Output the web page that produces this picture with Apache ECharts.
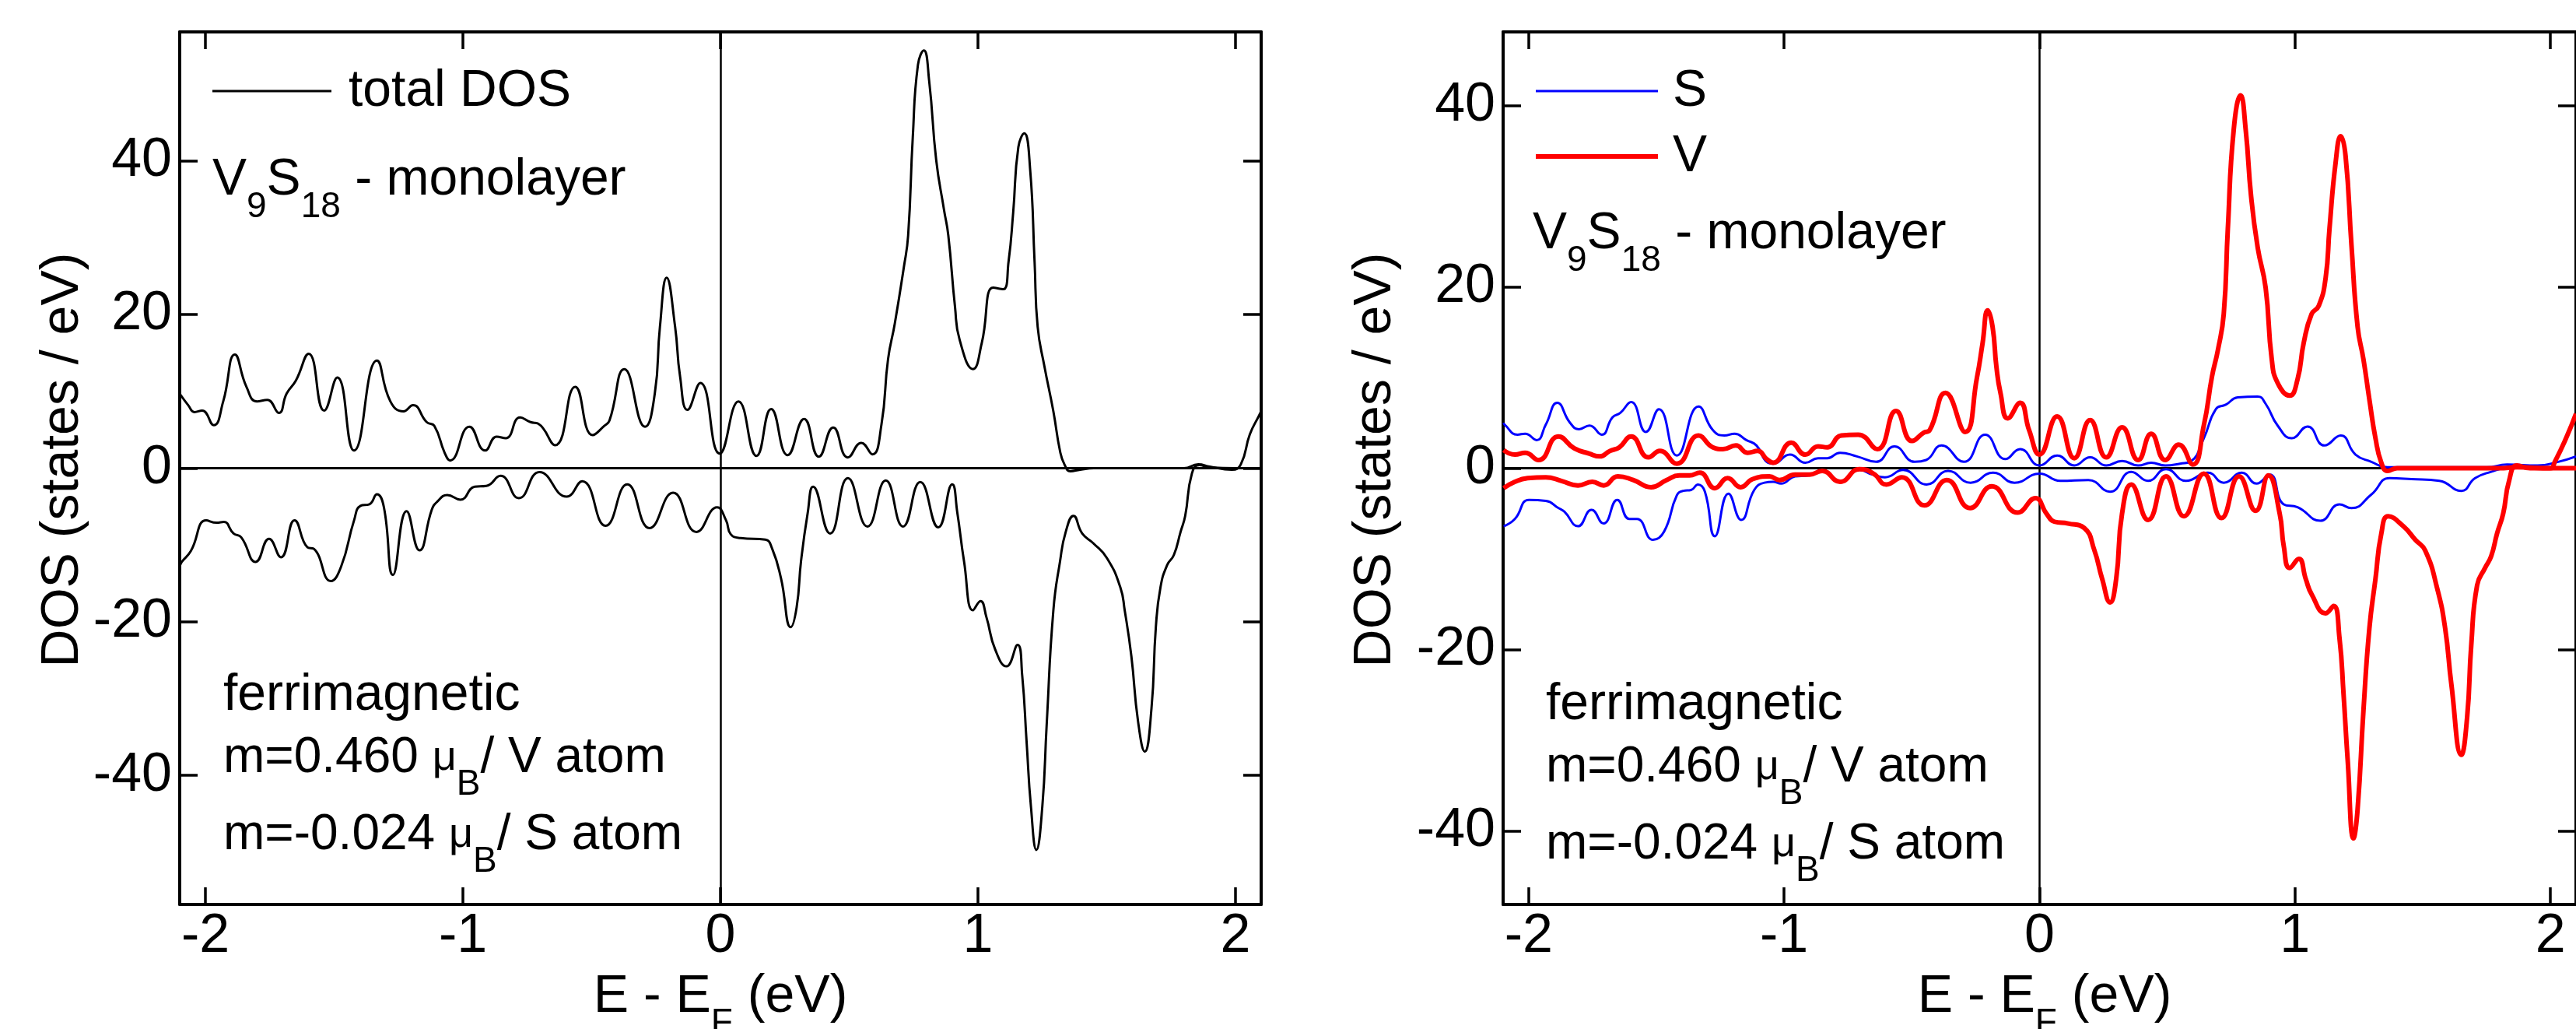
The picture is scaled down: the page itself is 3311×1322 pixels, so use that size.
<!DOCTYPE html>
<html>
<head>
<meta charset="utf-8">
<title>V9S18 monolayer DOS</title>
<script src="https://cdn.jsdelivr.net/npm/echarts@6/dist/echarts.min.js"></script>
<style>
html, body { margin: 0; padding: 0; background: #fff; }
#chart { width: 3311px; height: 1322px; }
</style>
</head>
<body>
<div id="chart"></div>
<script>
// Tick positions shared by both panels
const xTicks = [-2, -1, 0, 1, 2];
const yTicks = [-40, -20, 0, 20, 40];

// Total DOS, majority spin (states / eV)
const totUpE = [-2.098,-2.067,-2.043,-2.013,-1.968,-1.931,-1.886,-1.841,-1.800,-1.760,-1.715,-1.685,-1.649,-1.599,-1.539,-1.488,-1.423,-1.334,-1.282,-1.231,-1.194,-1.141,-1.111,-1.071,-1.050,-0.975,-0.914,-0.869,-0.834,-0.778,-0.738,-0.708,-0.642,-0.564,-0.496,-0.451,-0.431,-0.373,-0.293,-0.255,-0.235,-0.209,-0.176,-0.157,-0.128,-0.078,-0.003,0.070,0.140,0.197,0.261,0.325,0.382,0.438,0.495,0.547,0.590,0.625,0.651,0.677,0.712,0.729,0.747,0.767,0.790,0.811,0.838,0.868,0.885,0.911,0.929,0.981,1.015,1.059,1.098,1.119,1.137,1.157,1.180,1.203,1.220,1.232,1.258,1.293,1.319,1.336,1.359,1.397,1.450,1.800,1.856,1.900,1.986,2.021,2.056,2.091,2.100];
const totUpD = [9.6,8.2,7.3,7.5,5.6,8.7,14.8,10.6,8.7,8.9,7.2,9.7,11.4,14.9,7.5,11.8,2.3,14.0,8.7,7.4,8.2,6.0,5.5,2.0,1.0,5.4,2.3,4.1,3.9,6.6,6.0,5.8,3.0,10.6,4.3,5.5,6.2,12.9,5.4,9.7,18.4,24.8,18.4,12.0,7.6,11.1,1.9,8.7,1.6,7.7,1.7,6.4,1.5,5.3,1.4,3.3,1.8,5.6,14.2,18.8,26.1,30.3,43.1,52.5,54.4,50.3,40.1,33.7,30.3,21.0,16.7,12.9,16.3,23.5,23.3,26.9,33.3,41.8,43.6,38.8,26.9,18.4,13.3,7.4,2.2,0.5,-0.4,-0.2,0.0,0.0,0.5,0.2,-0.2,0.5,4.4,6.8,7.4];

// Total DOS, minority spin (drawn negative)
const totDnE = [-2.098,-2.092,-2.057,-1.997,-1.957,-1.929,-1.891,-1.861,-1.805,-1.753,-1.707,-1.654,-1.604,-1.579,-1.513,-1.473,-1.423,-1.398,-1.363,-1.334,-1.307,-1.272,-1.219,-1.169,-1.121,-1.101,-1.061,-1.010,-0.954,-0.909,-0.854,-0.783,-0.703,-0.597,-0.537,-0.446,-0.362,-0.275,-0.184,-0.093,-0.013,0.022,0.040,0.079,0.174,0.200,0.235,0.273,0.296,0.313,0.339,0.360,0.426,0.495,0.571,0.642,0.709,0.776,0.846,0.900,0.920,0.946,0.981,1.010,1.033,1.067,1.111,1.154,1.172,1.189,1.206,1.227,1.250,1.267,1.293,1.319,1.341,1.371,1.405,1.449,1.501,1.553,1.570,1.596,1.622,1.648,1.674,1.691,1.709,1.735,1.761,1.787,1.805,1.831,1.860,1.900,2.000,2.100];
const totDnD = [-12.6,-12.2,-10.8,-6.8,-7.1,-7.0,-8.5,-9.0,-12.2,-9.2,-11.6,-6.8,-10.3,-10.5,-14.7,-12.8,-6.8,-4.9,-4.7,-3.4,-5.1,-13.9,-5.6,-10.7,-5.4,-4.4,-3.5,-4.1,-2.4,-2.3,-1.0,-3.9,-0.5,-3.7,-1.7,-7.5,-2.1,-7.8,-3.2,-8.3,-5.1,-6.8,-8.6,-9.1,-9.3,-10.4,-14.3,-20.7,-18.1,-12.1,-5.8,-2.4,-8.5,-1.3,-7.6,-1.6,-7.6,-1.8,-7.7,-2.1,-5.8,-12.1,-18.5,-17.3,-19.4,-23.6,-25.8,-23.0,-27.0,-35.6,-44.1,-49.7,-44.1,-33.4,-18.5,-12.1,-8.3,-6.2,-8.5,-9.8,-11.7,-15.5,-18.5,-24.5,-33.0,-36.9,-31.3,-20.7,-15.5,-12.6,-11.3,-8.3,-6.2,-0.7,0.4,0.1,0.0,0.0];

// S-projected DOS, majority spin
const sUpE = [-2.098,-2.094,-2.044,-2.014,-1.969,-1.933,-1.888,-1.838,-1.803,-1.762,-1.714,-1.672,-1.641,-1.599,-1.541,-1.490,-1.420,-1.335,-1.279,-1.234,-1.194,-1.148,-1.108,-1.068,-1.043,-0.977,-0.917,-0.867,-0.831,-0.781,-0.715,-0.640,-0.568,-0.489,-0.444,-0.384,-0.296,-0.213,-0.134,-0.076,0.000,0.069,0.136,0.198,0.261,0.323,0.386,0.437,0.492,0.550,0.594,0.643,0.690,0.729,0.776,0.854,0.885,0.932,0.987,1.049,1.115,1.179,1.237,1.299,1.362,1.750,1.830,1.950,2.030,2.100];
const sUpD = [5.0,4.8,3.7,3.8,3.1,4.8,7.2,5.0,4.3,4.7,3.7,5.6,6.1,7.3,4.0,6.5,1.4,6.8,4.2,3.6,3.8,3.1,2.5,0.7,0.5,1.5,0.6,1.1,1.1,1.7,1.3,0.7,2.4,0.7,0.9,2.5,0.7,3.7,1.0,2.1,0.3,1.4,0.3,1.2,0.3,0.8,0.3,0.6,0.3,0.5,0.8,3.3,6.5,7.0,7.8,7.9,7.1,4.7,3.3,4.6,2.5,3.6,1.5,0.7,0.1,0.1,0.4,0.3,0.7,1.3];

// S-projected DOS, minority spin
const sDnE = [-2.098,-2.054,-1.999,-1.933,-1.883,-1.860,-1.807,-1.754,-1.707,-1.653,-1.606,-1.576,-1.513,-1.470,-1.420,-1.395,-1.364,-1.337,-1.310,-1.271,-1.218,-1.168,-1.117,-1.077,-1.043,-1.012,-0.957,-0.907,-0.851,-0.781,-0.705,-0.655,-0.605,-0.534,-0.442,-0.358,-0.270,-0.182,-0.098,0.000,0.081,0.191,0.276,0.359,0.425,0.495,0.573,0.659,0.721,0.792,0.849,0.901,0.956,1.010,1.099,1.174,1.221,1.299,1.370,1.455,1.565,1.651,1.705,1.768,1.830,2.100];
const sDnD = [-6.4,-5.6,-3.5,-3.6,-4.4,-4.8,-6.4,-4.6,-6.1,-3.5,-5.6,-5.6,-7.9,-7.0,-3.0,-2.5,-2.4,-1.8,-2.6,-7.5,-2.8,-5.7,-2.4,-1.6,-1.5,-1.7,-0.9,-0.8,-0.3,-1.4,-0.2,-0.7,-1.0,-0.2,-1.8,-0.3,-1.6,-0.5,-1.6,-0.6,-1.4,-1.3,-2.6,-0.4,-1.4,-0.1,-1.4,-0.5,-1.6,-0.5,-1.7,-0.7,-4.0,-4.3,-5.8,-4.0,-4.4,-2.9,-1.1,-1.2,-1.4,-2.5,-1.1,-0.4,0.0,0.0];

// V-projected DOS, majority spin
const vUpE = [-2.098,-2.054,-2.014,-1.961,-1.884,-1.822,-1.762,-1.722,-1.682,-1.645,-1.599,-1.531,-1.486,-1.420,-1.335,-1.279,-1.239,-1.189,-1.143,-1.103,-1.068,-1.043,-0.972,-0.917,-0.867,-0.831,-0.776,-0.710,-0.635,-0.562,-0.499,-0.454,-0.430,-0.368,-0.291,-0.245,-0.223,-0.203,-0.184,-0.169,-0.153,-0.124,-0.076,-0.041,0.000,0.069,0.136,0.198,0.261,0.323,0.386,0.437,0.492,0.545,0.600,0.643,0.675,0.698,0.721,0.737,0.760,0.787,0.807,0.828,0.854,0.885,0.909,0.932,0.979,1.010,1.034,1.065,1.093,1.120,1.135,1.159,1.179,1.198,1.221,1.245,1.268,1.291,1.315,1.338,1.362,1.400,1.800,1.869,2.000,2.017,2.061,2.100];
const vUpD = [2.0,1.5,1.7,0.9,3.5,2.2,1.6,1.3,1.9,2.3,3.5,1.2,1.9,0.5,3.6,2.3,2.1,2.5,1.7,1.9,1.0,0.6,2.8,1.5,2.4,2.3,3.6,3.7,2.1,6.3,3.0,3.9,4.2,8.3,4.0,10.0,13.8,17.4,15.6,11.2,8.3,5.5,7.2,4.2,1.5,5.7,1.1,5.3,1.2,4.5,0.9,3.8,0.9,2.6,0.4,4.7,10.1,13.0,17.0,26.4,37.3,41.1,37.3,30.0,24.3,19.9,12.0,9.4,8.0,9.8,13.8,17.0,17.9,21.0,26.4,33.7,36.6,34.4,24.6,15.6,12.0,7.6,3.3,0.6,-0.3,0.0,0.0,0.1,0.0,0.7,3.3,6.0];

// V-projected DOS, minority spin
const vDnE = [-2.098,-2.054,-2.004,-1.933,-1.872,-1.807,-1.751,-1.706,-1.651,-1.591,-1.521,-1.460,-1.410,-1.370,-1.330,-1.271,-1.221,-1.170,-1.123,-1.058,-1.018,-0.957,-0.900,-0.851,-0.781,-0.705,-0.650,-0.600,-0.539,-0.451,-0.363,-0.272,-0.187,-0.086,-0.016,0.027,0.058,0.112,0.175,0.214,0.245,0.276,0.300,0.323,0.359,0.425,0.495,0.565,0.643,0.712,0.781,0.846,0.896,0.940,0.956,0.979,1.015,1.042,1.065,1.120,1.151,1.174,1.190,1.206,1.229,1.245,1.268,1.291,1.315,1.338,1.365,1.424,1.471,1.510,1.557,1.588,1.612,1.651,1.674,1.690,1.713,1.744,1.768,1.791,1.815,1.838,1.869,1.920,2.100];
const vDnD = [-2.2,-1.5,-1.1,-1.0,-1.4,-1.9,-1.5,-1.9,-0.9,-1.3,-2.1,-1.3,-0.8,-0.8,-0.5,-2.2,-1.1,-2.1,-1.2,-0.9,-1.3,-0.7,-0.7,-0.3,-1.5,-0.1,-0.6,-1.8,-1.0,-4.1,-1.3,-4.4,-2.0,-4.9,-3.3,-5.0,-5.9,-6.1,-6.6,-9.0,-12.2,-14.8,-12.2,-5.0,-1.8,-5.7,-0.9,-5.3,-0.6,-5.5,-0.9,-4.7,-0.8,-5.0,-8.6,-11.0,-10.0,-12.2,-13.9,-16.0,-15.2,-18.7,-24.9,-32.1,-40.8,-37.6,-26.7,-17.7,-12.2,-7.2,-5.3,-6.4,-7.9,-9.1,-13.3,-17.7,-23.8,-31.6,-27.4,-19.5,-12.9,-11.0,-9.7,-7.2,-5.0,-1.4,0.3,0.0,0.0];

const FONT = '"Liberation Sans", Arial, Helvetica, sans-serif';
const X_MIN = -2.1, X_MAX = 2.1;

function pairs(xs, ys) { return xs.map((x, i) => [x, ys[i]]); }

const GRID_TOP = 41, GRID_H = 1121, GRID_W = 1390;
const grids = [
  { left: 231, top: GRID_TOP, width: GRID_W, height: GRID_H },
  { left: 1932, top: GRID_TOP, width: GRID_W, height: GRID_H }
];
const yRanges = [[-56.8, 56.8], [-48.1, 48.1]];

const frameLine = { show: true, onZero: false, lineStyle: { color: '#000', width: 4 } };
const tickStyle = { color: '#000', width: 3.5 };

const xAxes = [], yAxes = [];
grids.forEach((g, gi) => {
  const base = { type: 'value', gridIndex: gi, min: X_MIN, max: X_MAX, splitLine: { show: false }, axisLine: frameLine };
  xAxes.push(Object.assign({}, base, {
    position: 'bottom',
    axisTick: { show: true, inside: true, length: 22, lineStyle: tickStyle, customValues: xTicks },
    axisLabel: { show: true, customValues: xTicks, margin: 7, fontSize: 70, color: '#000', fontFamily: FONT }
  }));
  xAxes.push(Object.assign({}, base, {
    position: 'top',
    axisTick: { show: true, inside: true, length: 22, lineStyle: tickStyle, customValues: xTicks },
    axisLabel: { show: false }
  }));
  const ybase = { type: 'value', gridIndex: gi, min: yRanges[gi][0], max: yRanges[gi][1], splitLine: { show: false }, axisLine: frameLine };
  yAxes.push(Object.assign({}, ybase, {
    position: 'left',
    axisTick: { show: true, inside: true, length: 23, lineStyle: tickStyle, customValues: yTicks },
    axisLabel: { show: true, customValues: yTicks, margin: 10, fontSize: 70, color: '#000', fontFamily: FONT }
  }));
  yAxes.push(Object.assign({}, ybase, {
    position: 'right',
    axisTick: { show: true, inside: true, length: 23, lineStyle: tickStyle, customValues: yTicks },
    axisLabel: { show: false }
  }));
});

// Zero reference lines (E = E_F and DOS = 0) for a panel
function zeroLines(gi) {
  return {
    type: 'line', xAxisIndex: gi * 2, yAxisIndex: gi * 2, data: [], silent: true, z: 1,
    markLine: {
      silent: true, z: 1, symbol: ['none', 'none'], label: { show: false }, emphasis: { disabled: true },
      animation: false,
      data: [
        { yAxis: 0, lineStyle: { color: '#000', width: 3, type: 'solid' } },
        { xAxis: 0, lineStyle: { color: '#000', width: 2.5, type: 'solid' } }
      ]
    }
  };
}

function curve(name, gi, xs, ys, color, width) {
  return {
    name: name, type: 'line', xAxisIndex: gi * 2, yAxisIndex: gi * 2,
    data: pairs(xs, ys), showSymbol: false, symbol: 'none', smooth: 0.5,
    lineStyle: { color: color, width: width }, itemStyle: { color: color },
    z: 6, silent: true, clip: true
  };
}

const series = [
  zeroLines(0),
  curve('total DOS', 0, totUpE, totUpD, '#000000', 3),
  curve('total DOS', 0, totDnE, totDnD, '#000000', 3),
  zeroLines(1),
  curve('S', 1, sUpE, sUpD, '#0000ff', 3),
  curve('S', 1, sDnE, sDnD, '#0000ff', 3),
  curve('V', 1, vUpE, vUpD, '#ff0000', 6),
  curve('V', 1, vDnE, vDnD, '#ff0000', 6)
];

// Text styles for annotations: main text, subscript, mu; every token gets an
// explicit box height so the baseline offsets are predictable.
function tok(size, h, va) {
  return { fontSize: size, height: h, lineHeight: h, verticalAlign: va, fontFamily: FONT, fill: '#000', color: '#000' };
}
const rich = {
  n: tok(66, 100, 'top'),
  m: tok(64, 100, 'top'),
  s: tok(46, 32, 'bottom'),
  mu: tok(54, 100, 'top'),
  t: tok(68, 100, 'top'),
  ts: tok(46, 32, 'bottom')
};
const BASE_OFF = 73;   // distance from line top to the main baseline

function note(text, x, baseline, align) {
  return {
    type: 'text', x: x, y: baseline - BASE_OFF, silent: true, z: 10,
    style: { text: text, rich: rich, align: align || 'left', verticalAlign: 'top', fontFamily: FONT, fontSize: 66, fill: '#000' }
  };
}
function legendLine(x1, x2, y, color, width) {
  return { type: 'line', silent: true, z: 10, shape: { x1: x1, y1: y, x2: x2, y2: y }, style: { stroke: color, lineWidth: width } };
}
function yTitle(x) {
  return {
    type: 'text', x: x, y: 591, rotation: Math.PI / 2, silent: true, z: 10,
    style: { text: 'DOS (states / eV)', fontSize: 68, fontFamily: FONT, fill: '#000', align: 'center', verticalAlign: 'middle' }
  };
}

const formula = '{n|V}{s|9}{n|S}{s|18}{n| - monolayer}';
const momV = '{m|m=0.460 }{mu|\u03bc}{s|B}{m|/ V atom}';
const momS = '{m|m=-0.024 }{mu|\u03bc}{s|B}{m|/ S atom}';
const xTitle = '{t|E - E}{ts|F}{t| (eV)}';

const graphics = [
  // left panel
  legendLine(273, 426, 117, '#000', 3),
  note('{n|total DOS}', 448, 141),
  note(formula, 273, 255),
  note('{n|ferrimagnetic}', 287, 917),
  note(momV, 287, 997),
  note(momS, 287, 1096),
  note(xTitle, 926, 1304, 'center'),
  yTitle(81),
  // right panel
  legendLine(1974, 2131, 117, '#0000ff', 3),
  note('{n|S}', 2150, 141),
  legendLine(1974, 2131, 201, '#ff0000', 6),
  note('{n|V}', 2150, 225),
  note(formula, 1970, 324),
  note('{n|ferrimagnetic}', 1987, 929),
  note(momV, 1987, 1009),
  note(momS, 1987, 1108),
  note(xTitle, 2628, 1304, 'center'),
  yTitle(1768)
];

const chart = echarts.init(document.getElementById('chart'), null, { renderer: 'canvas' });
chart.setOption({
  backgroundColor: '#ffffff',
  animation: false,
  textStyle: { fontFamily: FONT },
  grid: grids,
  xAxis: xAxes,
  yAxis: yAxes,
  series: series,
  graphic: graphics
});
</script>
</body>
</html>
